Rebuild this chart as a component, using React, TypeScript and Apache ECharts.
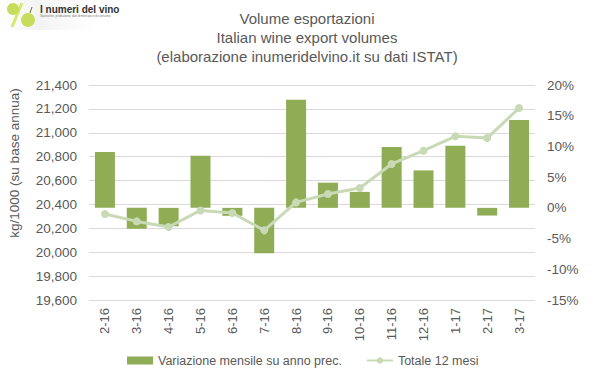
import React, { useEffect, useRef } from "react";
import * as echarts from "echarts";

const categories = ["2-16", "3-16", "4-16", "5-16", "6-16", "7-16", "8-16", "9-16", "10-16", "11-16", "12-16", "1-17", "2-17", "3-17"];
const variazione = [9.1, -3.4, -3.0, 8.5, -1.3, -7.4, 17.6, 4.1, 2.6, 9.9, 6.1, 10.1, -1.25, 14.3];
const totale = [20320, 20258, 20211, 20350, 20328, 20183, 20417, 20487, 20538, 20739, 20850, 20970, 20956, 21207];
const titleLines = ["Volume esportazioni", "Italian wine export volumes", "(elaborazione inumeridelvino.it su dati ISTAT)"];

const FONT = "'Liberation Sans', Arial, sans-serif";
const TXT = "#595959";

export default function App() {
  const ref = useRef<HTMLDivElement>(null);
  useEffect(() => {
    if (!ref.current) return;
    const chart = echarts.init(ref.current, null, { renderer: "svg" });
    chart.setOption({
      animation: false,
      backgroundColor: "#fff",
      textStyle: { fontFamily: FONT },
      grid: { left: 89, right: 64, top: 85, bottom: 78, containLabel: false },
      legend: {
        left: 122,
        top: 349,
        itemGap: 24,
        itemWidth: 26,
        itemHeight: 8,
        textStyle: { color: TXT, fontSize: 12.5, fontFamily: FONT },
        data: [
          { name: "Variazione mensile su anno prec.", icon: "rect" },
          { name: "Totale 12 mesi" },
        ],
      },
      xAxis: {
        type: "category",
        data: categories,
        axisLine: { show: false },
        axisTick: { show: false },
        axisLabel: { rotate: 90, color: TXT, fontSize: 13, margin: 8, fontFamily: FONT },
      },
      yAxis: [
        {
          type: "value",
          min: 19600,
          max: 21400,
          interval: 200,
          position: "left",
          axisLine: { show: false },
          axisTick: { show: false },
          splitLine: { lineStyle: { color: "#D9D9D9", width: 1 } },
          axisLabel: {
            color: TXT,
            fontSize: 13.5,
            margin: 12,
            fontFamily: FONT,
            formatter: (v: number) => v.toLocaleString("en-US"),
          },
        },
        {
          type: "value",
          min: -15,
          max: 20,
          interval: 5,
          position: "right",
          axisLine: { show: false },
          axisTick: { show: false },
          splitLine: { show: false },
          axisLabel: { color: TXT, fontSize: 13.5, margin: 12, fontFamily: FONT, formatter: "{value}%" },
        },
      ],
      series: [
        {
          name: "Variazione mensile su anno prec.",
          type: "bar",
          yAxisIndex: 1,
          data: variazione,
          barWidth: 20,
          itemStyle: { color: "#8FAD55" },
        },
        {
          name: "Totale 12 mesi",
          type: "line",
          yAxisIndex: 0,
          data: totale,
          symbol: "circle",
          symbolSize: 8,
          lineStyle: { color: "#C8DAB5", width: 3 },
          itemStyle: { color: "#C8DAB5" },
        },
      ],
      graphic: [
        ...titleLines.map((t, i) => ({
          type: "text",
          x: 307,
          y: 18 + i * 19,
          style: {
            text: t,
            fill: TXT,
            font: `15px ${FONT}`,
            textAlign: "center",
            textVerticalAlign: "middle",
          },
        })),
        {
          type: "text",
          x: 14,
          y: 163,
          rotation: Math.PI / 2,
          style: {
            text: "kg/1000 (su base annua)",
            fill: TXT,
            font: `13.5px ${FONT}`,
            textAlign: "center",
            textVerticalAlign: "middle",
          },
        },
        // logo
        {
          type: "rect",
          shape: { x: 0, y: 0, width: 95, height: 30 },
          style: {
            fill: new echarts.graphic.LinearGradient(0, 0, 1, 0, [
              { offset: 0, color: "#ffffff" },
              { offset: 0.4, color: "#f3f3f3" },
              { offset: 1, color: "#ffffff" },
            ]),
          },
        },
        {
          type: "line",
          shape: { x1: 22, y1: 3, x2: 12, y2: 27 },
          style: { stroke: "#D7E86A", lineWidth: 3 },
        },
        { type: "circle", shape: { cx: 13, cy: 9, r: 6 }, style: { fill: "#C5DD5A" } },
        { type: "circle", shape: { cx: 28, cy: 20, r: 7 }, style: { fill: "#C5DD5A" } },
        { type: "line", shape: { x1: 30, y1: 13, x2: 32, y2: 7 }, style: { stroke: "#6b7a2a", lineWidth: 1 } },
        {
          type: "text",
          x: 40,
          y: 9,
          style: { text: "I numeri del vino", fill: "#333", font: `bold 10px 'Liberation Sans Narrow', ${FONT}`, textVerticalAlign: "middle" },
        },
        {
          type: "text",
          x: 40,
          y: 16,
          style: { text: "Statistiche, produzione, dati di mercato e di consumo", fill: "#777", font: `3px ${FONT}`, textVerticalAlign: "middle" },
        },
      ],
    });
    return () => chart.dispose();
  }, []);
  return <div ref={ref} style={{ width: 599, height: 378, position: "absolute", left: 0, top: 0 }} />;
}
